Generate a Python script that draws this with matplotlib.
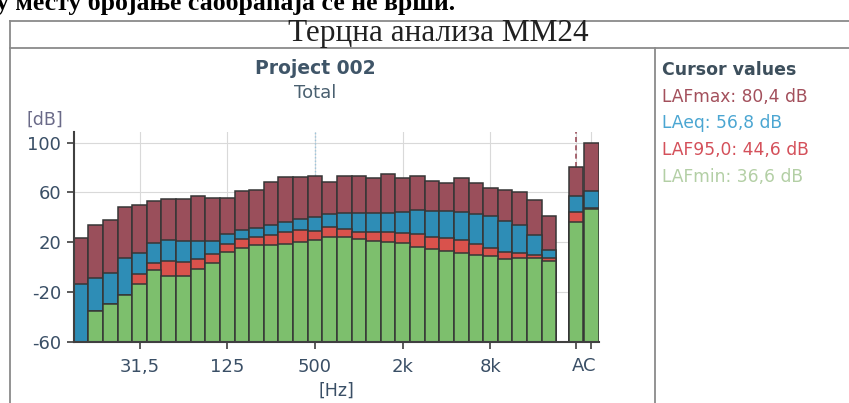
import matplotlib
matplotlib.use('Agg')
import matplotlib.pyplot as plt
from matplotlib.lines import Line2D

# третинско-октавни опсези 12,5 Hz ... 20 kHz
bands = ['12,5', '16', '20', '25', '31,5', '40', '50', '63', '80', '100',
         '125', '160', '200', '250', '315', '400', '500', '630', '800', '1k',
         '1,25k', '1,6k', '2k', '2,5k', '3,15k', '4k', '5k', '6,3k', '8k', '10k',
         '12,5k', '16k', '20k']

lafmax = [23, 34, 38, 48, 49.5, 53, 54.5, 54.5, 57, 55.5,
          55.5, 61, 62, 68, 72, 72, 73.3, 68, 73.2, 73.2,
          71.3, 74.5, 71.3, 73.2, 69.2, 67.3, 71.3, 67.5, 63.8, 62,
          60.4, 53.6, 41.3]
laeq = [-14, -9, -5, 7, 11, 19, 22, 21, 21, 21.3,
        26.2, 30, 31, 34.2, 36.5, 38.5, 40.3, 42.7, 43.2, 43.2,
        43.2, 43.2, 44.5, 45.9, 45.4, 44.8, 44.5, 42.8, 40.7, 37.3,
        33.8, 25.4, 13.4]
laf95 = [-62, -35, -29.5, -22.5, -5.6, 3.2, 4.5, 4.3, 6.2, 10.5,
         18.8, 22.3, 24.2, 26, 27.8, 29.4, 29.2, 32, 30.3, 28.5,
         28.5, 28.5, 27.1, 26.3, 24.4, 23.1, 22, 18.3, 15.7, 12,
         11.6, 9.7, 7]
lafmin = [-62, -35, -29.5, -22.5, -13.3, -2.7, -7, -7, -1.2, 3.5,
          12.3, 15, 17.7, 17.4, 18.8, 20.4, 22, 24, 24.4, 22.3,
          21.3, 20.4, 19.6, 16.4, 14.3, 13.2, 11.5, 10, 9, 6.2,
          7.3, 7.1, 4.7]

# укупни нивои A и C
ac_names = ['A', 'C']
ac_max = [80.4, 99.5]
ac_eq = [56.8, 61.5]
ac_95 = [44.6, 47.5]
ac_min = [36.6, 47.0]

tick_names = ['31,5', '125', '500', '2k', '8k']
y_ticks = [100, 60, 20, -20, -60]

cursor = ['LAFmax: 80,4 dB', 'LAeq: 56,8 dB', 'LAF95,0: 44,6 dB', 'LAFmin: 36,6 dB']
cursor_colors = ['#a3505c', '#4ba6d2', '#d4505a', '#b3cfa5']

col_max = '#9a4f5b'
col_eq = '#2e8db6'
col_95 = '#d9524c'
col_min = '#7dbf6d'
edge = '#363636'

W, H = 849, 403


def fx(x):
    return x / W


def fy(y):
    return 1 - y / H


fig = plt.figure(figsize=(W / 100, H / 100), dpi=100)

# линије табеле
gray = '#8a8a8a'
fig.add_artist(Line2D([fx(10), 1], [fy(21), fy(21)], color=gray, lw=1.3))
fig.add_artist(Line2D([fx(10), 1], [fy(48), fy(48)], color=gray, lw=1.3))
fig.add_artist(Line2D([fx(10), fx(10)], [fy(21), 0], color=gray, lw=1.3))
fig.add_artist(Line2D([fx(655), fx(655)], [fy(48), 0], color=gray, lw=1.3))

fig.text(fx(-4), fy(10), 'у месту бројање саобраћаја се не врши.', fontsize=18.5,
         family='Liberation Serif', fontweight='bold', va='baseline', ha='left')
fig.text(fx(438), fy(34), 'Терцна анализа ММ24', fontsize=22.5,
         family='Liberation Serif', va='center', ha='center', color='#202020')

ax = fig.add_axes([fx(73.7), fy(341.7), fx(598.7) - fx(73.7), (341.7 - 131.7) / H])

x = list(range(len(bands)))
ac_x = [33.85, 34.9]
xs = x + ac_x

series = [(lafmax + ac_max, col_max), (laeq + ac_eq, col_eq),
          (laf95 + ac_95, col_95), (lafmin + ac_min, col_min)]
for vals, c in series:
    ax.bar(xs, [v + 60 for v in vals], bottom=-60, width=1.0, color=c,
           edgecolor=edge, linewidth=1.1, zorder=2)

ax.axvline(ac_x[0], color='#9a4f5b', ls=(0, (3, 2)), lw=1.2, zorder=1.5)
ax.axvline(bands.index('500'), color='#9cc6de', ls=(0, (1, 1.5)), lw=1.0, zorder=1.4)

ax.set_xlim(-0.5, 35.4)
ax.set_ylim(-60, 108.8)

tick_pos = [bands.index(t) for t in tick_names]
ax.set_xticks(tick_pos + ac_x)
ax.set_xticklabels(tick_names + ['', ''])
ax.set_yticks(y_ticks)
ax.set_yticklabels([str(v) for v in y_ticks])
ax.annotate('AC', xy=((ac_x[0] + ac_x[1]) / 2, 0), xycoords=('data', 'axes fraction'),
            xytext=(0, -11), textcoords='offset points', ha='center', va='top',
            fontsize=13, color='#3a4f66')

ax.grid(True, color='#d9d9d9', lw=0.8)
ax.set_axisbelow(True)
for s in ['top', 'right']:
    ax.spines[s].set_visible(False)
for s in ['left', 'bottom']:
    ax.spines[s].set_color('#404040')
    ax.spines[s].set_linewidth(1.5)
    ax.spines[s].set_zorder(3)
ax.tick_params(axis='both', colors='#404040', length=5, width=1.2,
               labelsize=13, labelcolor='#3a4f66', pad=4)
ax.tick_params(axis='x', pad=7)

fig.text(fx(45), fy(120), '[dB]', fontsize=12.5, color='#6a6a88', ha='center', va='center')
fig.text(fx(336), fy(391), '[Hz]', fontsize=12.5, color='#3a4f66', ha='center', va='center')
fig.text(fx(315), fy(69), 'Project 002', fontsize=13.5, fontweight='bold',
         color='#3f5568', ha='center', va='center')
fig.text(fx(315), fy(93), 'Total', fontsize=13, color='#4a6070', ha='center', va='center')

fig.text(fx(662), fy(70), 'Cursor values', fontsize=12.5, fontweight='bold',
         color='#3d4f5c', ha='left', va='center')
for i, (s, c) in enumerate(zip(cursor, cursor_colors)):
    fig.text(fx(662), fy(97 + i * 26.5), s, fontsize=12.3, color=c,
             ha='left', va='center')

fig.savefig('out.png', dpi=100)
